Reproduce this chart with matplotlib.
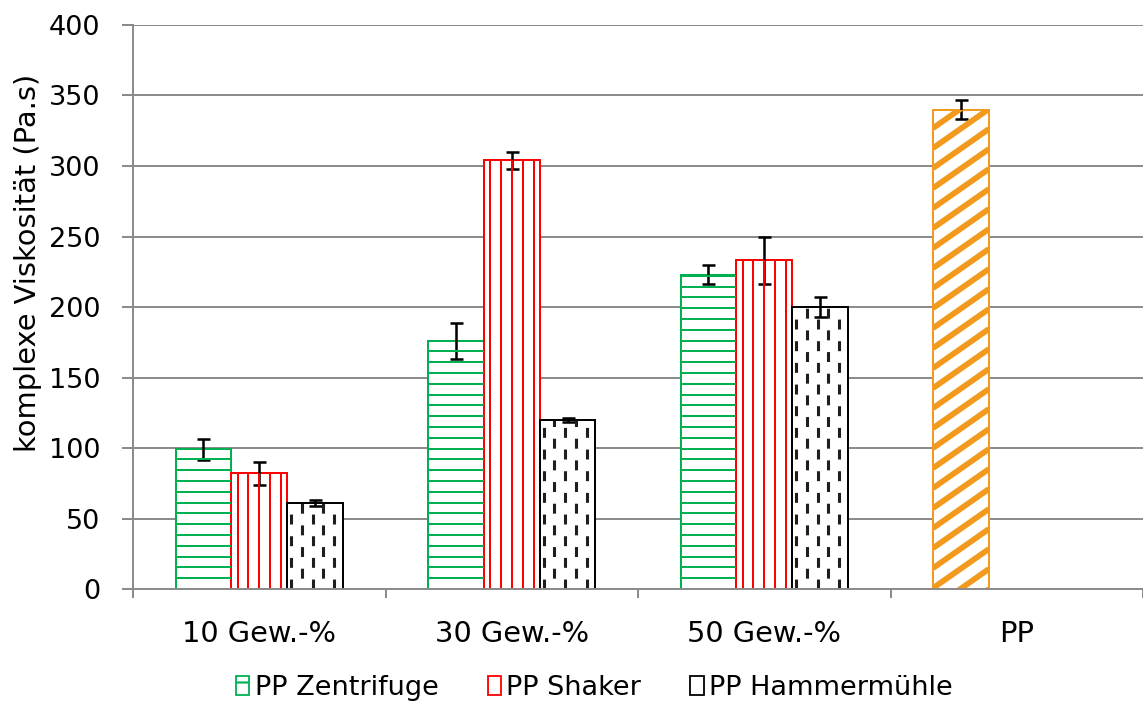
import numpy as np
import matplotlib
matplotlib.use("Agg")
from matplotlib import pyplot as plt
from matplotlib.patches import Patch

#values
categories = ["10 Gew.-%", "30 Gew.-%", "50 Gew.-%", "PP"]
zentrifuge = [99, 176, 223]
zentrifuge_err = [7.5, 13, 7]
shaker = [82, 304, 233]
shaker_err = [8, 6, 17]
hammer = [61, 120, 200]
hammer_err = [2, 1.5, 7]
pp = [340]
pp_err = [7]

green = "#00B050"
red = "#FF0000"
orange = "#F29A1E"
dark = "#1E1E1E"
grid_gray = "#8C8C8C"

dpi = 130
plt.rcParams["font.family"] = "DejaVu Sans"
plt.rcParams["lines.scale_dashes"] = False
plt.rcParams["hatch.linewidth"] = 1.2

fig = plt.figure(figsize=(1143/dpi, 706/dpi), dpi=dpi)
ax = fig.add_axes([0.1164, 0.1657, 0.8836, 0.7989])
ax.set_xlim(-0.5, 3.5)
ax.set_ylim(0, 400)

#pixel size of one data unit, used to space the fill patterns
p0 = ax.transData.transform((0, 0))
p1 = ax.transData.transform((1, 1))
px_x = p1[0] - p0[0]
px_y = p1[1] - p0[1]

w = 0.221
x = np.arange(3)
err_kw = dict(ecolor="black", elinewidth=1.4, capsize=3.6, capthick=1.4)

b1 = ax.bar(x - w, zentrifuge, w, yerr=zentrifuge_err, color="white",
	edgecolor=green, linewidth=1.1, error_kw=err_kw, zorder=2)
b2 = ax.bar(x, shaker, w, yerr=shaker_err, color="white",
	edgecolor=red, linewidth=1.1, error_kw=err_kw, zorder=2)
b3 = ax.bar(x + w, hammer, w, yerr=hammer_err, color="white",
	edgecolor="black", linewidth=1.1, error_kw=err_kw, zorder=2)
b4 = ax.bar([3 - w], pp, w, yerr=pp_err, color="white",
	edgecolor=orange, linewidth=1.1, error_kw=err_kw, zorder=2)

#horizontal stripes (Zentrifuge)
step = 10.8 / px_y
for rect in b1.patches:
	h = rect.get_height()
	ys = np.arange(step, h, step)
	lc = ax.hlines(ys, rect.get_x(), rect.get_x() + rect.get_width(),
		colors=green, linewidth=1.1, zorder=2.5)
	lc.set_clip_path(rect)

#vertical stripes (Shaker)
for rect in b2.patches:
	bw = rect.get_width()
	xs = rect.get_x() + bw*np.array([0.11, 0.305, 0.5, 0.695, 0.89])
	lc = ax.vlines(xs, 0, rect.get_height(), colors=red, linewidth=1.1, zorder=2.5)
	lc.set_clip_path(rect)

#dashed vertical pattern (Hammermuehle)
for rect in b3.patches:
	x0 = rect.get_x()
	bw = rect.get_width()
	h = rect.get_height()
	for k, frac in enumerate([0.07, 0.26, 0.455, 0.65, 0.84]):
		off = 0 if k % 2 == 0 else 6
		lc = ax.vlines(x0 + frac*bw, 0, h, colors=dark, linewidth=1.7,
			linestyles=[(off, (5.5, 6.5))], zorder=2.5)
		lc.set_clip_path(rect)

#diagonal stripes (PP)
s = 0.7 * px_x / px_y
for rect in b4.patches:
	x0 = rect.get_x()
	bw = rect.get_width()
	h = rect.get_height()
	for yc in np.arange(-s*bw, h + 20/px_y, 20/px_y):
		ln, = ax.plot([x0, x0 + bw], [yc, yc + s*bw], color=orange,
			linewidth=3.2, solid_capstyle="butt", zorder=2.5)
		ln.set_clip_path(rect)

ax.set_yticks(np.arange(0, 401, 50))
ax.set_axisbelow(True)
ax.yaxis.grid(True, color=grid_gray, linewidth=1.1)

ax.set_xticks([-0.5, 0.5, 1.5, 2.5, 3.5])
ax.set_xticklabels([])
ax.set_xticks(np.arange(4), minor=True)
ax.set_xticklabels(categories, minor=True)
ax.tick_params(axis="x", which="minor", length=0, pad=17, labelsize=16)
ax.tick_params(axis="x", which="major", length=5, width=1.1, color=grid_gray)
ax.tick_params(axis="y", length=6, width=1.1, color=grid_gray, pad=12, labelsize=15)

for sp in ["top", "right"]:
	ax.spines[sp].set_visible(False)
for sp in ["left", "bottom"]:
	ax.spines[sp].set_color(grid_gray)
	ax.spines[sp].set_linewidth(1.1)

ax.set_ylabel("komplexe Viskosität (Pa.s)", fontsize=16)
ax.yaxis.set_label_coords(-0.09, 0.578)

handles = [
	Patch(facecolor="white", edgecolor=green, hatch="-", label="PP Zentrifuge"),
	Patch(facecolor="white", edgecolor=red, hatch="|", label="PP Shaker"),
	Patch(facecolor="white", edgecolor="black", label="PP Hammermühle"),
]
fig.legend(handles=handles, loc="center", bbox_to_anchor=(0.52, 0.025), ncol=3,
	frameon=False, fontsize=15, handlelength=0.5, handleheight=0.7,
	handletextpad=0.2, columnspacing=1.8)

fig.savefig("out.png", dpi=dpi)
